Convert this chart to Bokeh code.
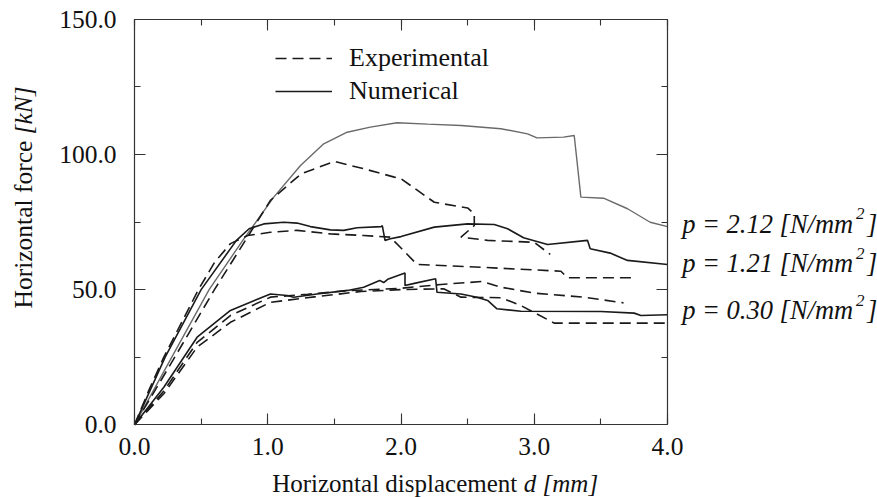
import math
from bokeh.plotting import figure
from bokeh.models import (LinearAxis, Range1d, SingleIntervalTicker, NumeralTickFormatter,
                          Label, Legend, LegendItem)
from bokeh.embed import file_html
from bokeh.resources import INLINE

# ---------------- data ----------------
num_212_x = [0, 0.28, 0.56, 0.81, 1.045, 1.246, 1.42, 1.596, 1.77, 1.97, 2.2, 2.45, 2.75, 2.95,
             3.02, 3.22, 3.30, 3.35, 3.52, 3.70, 3.87, 4.0]
num_212_y = [0, 25, 50, 68, 84.2, 95.9, 103.9, 108.2, 110.1, 111.7, 111.2, 110.7, 109.5, 107.6,
             106.1, 106.4, 107, 84.2, 83.8, 79.9, 74.9, 73.3]

exp_212_x = [0, 0.29, 0.60, 0.83, 1.02, 1.25, 1.50, 1.72, 1.95, 2.0, 2.25, 2.50, 2.55, 2.55,
             2.45, 2.65, 3.00, 3.12]
exp_212_y = [0, 24, 50, 68, 83, 92.8, 97.4, 94.7, 91.6, 91.0, 82.3, 80.2, 78, 73.7,
             69.4, 68.2, 67.5, 63]

num_121_x = [0, 0.23, 0.50, 0.765, 0.86, 0.97, 1.12, 1.22, 1.32, 1.47, 1.57, 1.67, 1.85, 1.86,
             1.88, 1.92, 2.0, 2.25, 2.50, 2.70, 2.80, 2.92, 3.10, 3.40, 3.42, 3.57, 3.70, 4.0]
num_121_y = [0, 25, 50, 68.2, 72.5, 74.3, 74.9, 74.6, 73.3, 72.1, 71.9, 72.9, 73.3, 73.6,
             68.2, 68.8, 69.6, 73.1, 74.3, 74.1, 72.5, 69.2, 66.7, 68.2, 65.1, 63.5, 60.8, 59.3]

exp_121_x = [0, 0.11, 0.22, 0.48, 0.60, 0.72, 0.85, 1.02, 1.22, 1.47, 1.72, 1.92, 2.0, 2.12,
             2.5, 3.2, 3.25, 3.75]
exp_121_y = [0, 13, 25, 50, 60, 67, 70, 71.2, 71.9, 70.6, 70, 69.4, 65.4, 59.3,
             58.5, 56.8, 54.4, 54.4]

num_030_x = [0, 0.22, 0.47, 0.72, 1.02, 1.145, 1.195, 1.37, 1.60, 1.72, 1.84, 1.87, 1.90, 2.03,
             2.03, 2.10, 2.26, 2.27, 2.45, 2.57, 2.65, 2.72, 2.90, 3.50, 3.75, 3.80, 4.0]
num_030_y = [0, 13.9, 32.4, 42.3, 48.4, 47.8, 47.2, 48.4, 49.7, 50.9, 53.4, 52.6, 53.8, 56.1,
             51.5, 52.3, 54, 49, 48.4, 47.2, 46, 42.9, 42, 41.9, 41.3, 40.4, 40.7]

exp_030a_x = [0, 0.22, 0.47, 0.72, 1.02, 1.30, 1.60, 2.00, 2.30, 2.61, 2.75, 3.00, 3.37, 3.67]
exp_030a_y = [0, 12.5, 30.5, 40.4, 47.2, 48.3, 49.6, 50.5, 51.9, 53.0, 50.9, 48.7, 47.2, 45.1]

exp_030b_x = [0, 0.22, 0.47, 0.72, 1.02, 1.35, 1.70, 2.00, 2.32, 2.45, 2.75, 2.90, 3.15, 4.00]
exp_030b_y = [0, 11.5, 28.7, 37.9, 45.3, 47.3, 49.3, 50.0, 50.3, 47.2, 47.0, 44.1, 37.6, 37.6]

x_bounds = (0, 4)
y_bounds = (0, 150)
x_ticks_interval = 1.0
y_ticks_interval = 50
legend_labels = ["Experimental", "Numerical"]
x_title = ["Horizontal displacement", "d [mm]"]
y_title = ["Horizontal force", "[kN]"]
pressure_labels = ["p = 2.12 [N/mm", "p = 1.21 [N/mm", "p = 0.30 [N/mm"]
pressure_label_y = [70.75, 56.3, 38.9]

FONT = "Liberation Serif"
BLACK = "#1a1a1a"
GRAY = "#6a6a6a"
TXT = "#111111"
DASH = "11 6"

W, H = 877, 497
# pixel placement of the plot box inside the picture
X0_PX, X1_PX = 134.0, 667.0
Y0_PX, Y1_PX = 424.3, 18.7
sx = (X1_PX - X0_PX) / (x_bounds[1] - x_bounds[0])
sy = (Y0_PX - Y1_PX) / (y_bounds[1] - y_bounds[0])
x_range = Range1d(x_bounds[0] - X0_PX / sx, x_bounds[1] + (W - X1_PX) / sx)
y_range = Range1d(y_bounds[0] - (H - Y0_PX) / sy, y_bounds[1] + Y1_PX / sy)
SHIFT = 9.5  # text baseline correction, px

p = figure(width=W, height=H, x_range=x_range, y_range=y_range,
           x_axis_location=None, y_axis_location=None,
           output_backend="svg", toolbar_location=None,
           min_border=0, min_border_left=0, min_border_right=0,
           min_border_top=0, min_border_bottom=0)
p.xgrid.visible = False
p.ygrid.visible = False
p.outline_line_color = None
p.background_fill_color = "white"
p.border_fill_color = "white"


def make_axis(interval, bounds, loc, standoff, show_labels, ticks):
    ax = LinearAxis(fixed_location=loc, bounds=bounds)
    ax.ticker = SingleIntervalTicker(interval=interval, num_minor_ticks=2)
    ax.formatter = NumeralTickFormatter(format="0.0")
    ax.axis_line_color = "#333333"
    ax.axis_line_width = 1.2
    ax.major_tick_line_color = "#333333"
    ax.minor_tick_line_color = "#333333"
    ax.major_tick_line_width = 1.1
    ax.minor_tick_line_width = 1.1
    ax.major_tick_in = 11
    ax.major_tick_out = 0
    ax.minor_tick_in = 6
    ax.minor_tick_out = 0
    ax.major_label_text_font = FONT
    ax.major_label_text_color = TXT
    ax.major_label_text_font_size = "25.5px"
    ax.major_label_standoff = standoff
    if not show_labels:
        ax.major_label_overrides = {t: "" for t in ticks}
    return ax


x_major = [0, 1, 2, 3, 4]
y_major = [0, 50, 100, 150]
p.add_layout(make_axis(x_ticks_interval, x_bounds, y_bounds[0], 13, True, x_major), "below")
p.add_layout(make_axis(y_ticks_interval, y_bounds, x_bounds[0], 18, True, y_major), "left")
p.add_layout(make_axis(x_ticks_interval, x_bounds, y_bounds[1], 0, False, x_major), "above")
p.add_layout(make_axis(y_ticks_interval, y_bounds, x_bounds[1], 0, False, y_major), "right")

# ---------------- curves ----------------
p.line(num_212_x, num_212_y, line_color=GRAY, line_width=1.4)
r_exp212 = p.line(exp_212_x, exp_212_y, line_color=BLACK, line_width=1.6, line_dash=DASH)
r_num121 = p.line(num_121_x, num_121_y, line_color=BLACK, line_width=1.6)
p.line(exp_121_x, exp_121_y, line_color=BLACK, line_width=1.6, line_dash=DASH)
p.line(num_030_x, num_030_y, line_color=BLACK, line_width=1.6)
p.line(exp_030a_x, exp_030a_y, line_color=BLACK, line_width=1.6, line_dash=DASH)
p.line(exp_030b_x, exp_030b_y, line_color=BLACK, line_width=1.6, line_dash=DASH)

# ---------------- legend ----------------
legend = Legend(items=[LegendItem(label=legend_labels[0], renderers=[r_exp212]),
                       LegendItem(label=legend_labels[1], renderers=[r_num121])],
                location=(275, 391), border_line_color=None, background_fill_alpha=0,
                padding=0, margin=0, spacing=3, glyph_width=57, glyph_height=30,
                label_height=30, label_standoff=17,
                label_text_font=FONT, label_text_font_size="26px",
                label_text_color=TXT)
p.add_layout(legend)


def px_x(px):
    return x_bounds[0] + (px - X0_PX) / sx


def px_y(py):
    return y_bounds[0] + (Y0_PX - py) / sy


# ---------------- axis titles ----------------
xb = 492.0 - SHIFT
p.add_layout(Label(x=px_x(271.7), y=px_y(xb), text=x_title[0], text_font=FONT,
                   text_font_size="25px", text_color=TXT,
                   text_align="left", text_baseline="alphabetic"))
p.add_layout(Label(x=px_x(523.3), y=px_y(xb), text=x_title[1], text_font=FONT,
                   text_font_size="25px", text_font_style="italic", text_color=TXT,
                   text_align="left", text_baseline="alphabetic"))
yb = 32.0 - SHIFT
p.add_layout(Label(x=px_x(yb), y=px_y(308), text=y_title[0], text_font=FONT,
                   text_font_size="25.5px", text_color=TXT, angle=math.pi / 2,
                   text_align="left", text_baseline="alphabetic"))
p.add_layout(Label(x=px_x(yb), y=px_y(134), text=y_title[1], text_font=FONT,
                   text_font_size="25.5px", text_font_style="italic", text_color=TXT,
                   angle=math.pi / 2, text_align="left", text_baseline="alphabetic"))

# ---------------- pressure annotations ----------------
for txt, yv in zip(pressure_labels, pressure_label_y):
    yl = yv + SHIFT / sy
    p.add_layout(Label(x=px_x(681.7), y=yl, text=txt, text_font=FONT, text_font_size="26.5px",
                       text_font_style="italic", text_color=TXT,
                       text_align="left", text_baseline="alphabetic"))
    p.add_layout(Label(x=px_x(855.5), y=yl + 10 / sy, text="2", text_font=FONT,
                       text_font_size="17px", text_font_style="italic", text_color=TXT,
                       text_align="left", text_baseline="alphabetic"))
    p.add_layout(Label(x=px_x(866.5), y=yl, text="]", text_font=FONT, text_font_size="26.5px",
                       text_font_style="italic", text_color=TXT,
                       text_align="left", text_baseline="alphabetic"))

open("out.html", "w").write(file_html(p, INLINE))
